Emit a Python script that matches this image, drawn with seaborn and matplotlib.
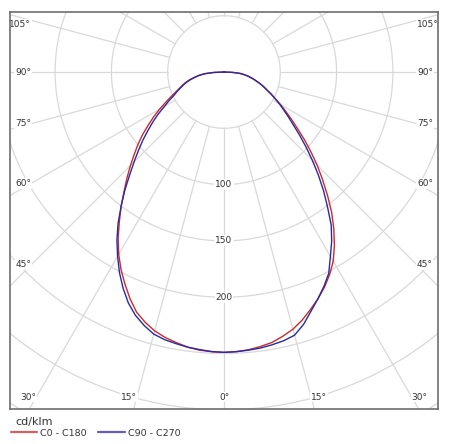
import numpy as np
import pandas as pd
import matplotlib
matplotlib.use('Agg')
import matplotlib.pyplot as plt
import seaborn as sns
from matplotlib.lines import Line2D

sns.set_style('white')
plt.rcParams['font.family'] = ['DejaVu Sans']

# Luminous intensity (cd/klm) against gamma angle, one list per C-plane
gamma = [0, 2.5, 5, 7.5, 10, 12.5, 15, 17.5, 20, 22.5, 25, 27.5, 30, 32.5, 35, 37.5, 40, 42.5,
         45, 47.5, 50, 52.5, 55, 57.5, 60, 62.5, 65, 67.5, 70, 72.5, 75, 77.5, 80, 82.5, 85, 87.5, 90]
c0 = [249, 248.5, 247.7, 246, 244, 240.5, 236.5, 231, 224.5, 218, 211, 203, 194, 182.5, 170, 157,
      143, 129.5, 117, 104.5, 93, 82, 73, 65, 58, 51.5, 46, 41, 37, 33, 29, 25.5, 22, 18.5, 15, 8, 0]
c180 = [249, 248.7, 248, 246.5, 244, 241.5, 238, 233, 227, 218, 208, 198, 187, 175, 162, 150,
        138, 127.5, 117.5, 108, 99.6, 91, 82, 74, 66, 58.5, 52, 46.5, 42, 38.5, 35, 31, 26, 22, 17, 9, 0]
c90 = [249, 248.7, 248, 247.3, 246, 244.5, 242, 235, 226, 218, 210, 201.5, 189, 178, 166, 151,
       137.5, 124, 111, 99, 88, 78, 70, 63, 57, 51, 46, 41, 37, 33, 29, 25.5, 22, 18, 14, 7, 0]
c270 = [249, 248.5, 247.5, 246.5, 245, 243.5, 241, 236, 230, 222, 212, 201, 189, 177, 164, 150,
        137, 124, 113, 103, 94, 85, 77, 69, 61, 55, 49, 45, 41, 37.5, 34, 30, 26, 22, 17, 9, 0]

series_names = ['C0 - C180', 'C90 - C270']
series_colors = ['#cc2a2a', '#2a2aa6']

ring_values = [50, 100, 150, 200, 250, 300, 350, 400]
ring_labels = [100, 150, 200]
angle_ticks = [0, 15, 30, 45, 60, 75, 90, 105]
unit_label = 'cd/klm'

# scale: 1.126 px per cd/klm, centre of the diagram near the top
XMAX = 190.05
YMIN, YMAX = -299.3, 53.3
GRID = '#d9d9d9'
TXT = '#333333'


def half_curve(values, side):
    g = np.radians(gamma)
    r = np.asarray(values, dtype=float)
    return side * r * np.sin(g), -r * np.cos(g)


rows = []
for name, right, left in [(series_names[0], c0, c180), (series_names[1], c90, c270)]:
    xl, yl = half_curve(left, -1)
    xr, yr = half_curve(right, 1)
    xs = np.concatenate([xl[::-1], xr[1:]])
    ys = np.concatenate([yl[::-1], yr[1:]])
    rows.append(pd.DataFrame({'x': xs, 'y': ys, 'curve': name}))
df = pd.concat(rows, ignore_index=True)

fig = plt.figure(figsize=(4.5, 4.44), dpi=100)
ax = fig.add_axes([10 / 450, 35 / 444, 428 / 450, 397 / 444])

# polar grid
t = np.linspace(0, 2 * np.pi, 721)
for rv in ring_values:
    ax.plot(rv * np.sin(t), -rv * np.cos(t), color=GRID, lw=0.9, zorder=1)
for a in range(0, 360, 15):
    ar = np.radians(a)
    ax.plot([50 * np.sin(ar), 600 * np.sin(ar)], [-50 * np.cos(ar), -600 * np.cos(ar)],
            color=GRID, lw=0.9, zorder=1)

sns.lineplot(data=df, x='x', y='y', hue='curve', hue_order=series_names,
             palette=series_colors, sort=False, estimator=None, units='curve',
             lw=1.0, ax=ax, legend=False, zorder=3)

# intensity labels along the 0 deg axis
for rv in ring_labels:
    ax.text(0, -rv, str(rv), ha='center', va='center', fontsize=6.5, color=TXT,
            bbox=dict(boxstyle='square,pad=0.1', fc='white', ec='none'), zorder=2)

# angle labels where radial lines meet an inset frame
x_in = XMAX - 21 / 1.126
y_in = -YMIN - 12 / 1.126
for a in angle_ticks:
    ar = np.radians(a)
    s, c = np.sin(ar), np.cos(ar)
    cands = []
    if s > 1e-9:
        cands.append(x_in / s)
    if c > 1e-9:
        cands.append(y_in / c)
    tt = min(cands)
    for side in ([1] if a == 0 else [-1, 1]):
        px, py = side * tt * s, -tt * c
        if a > 90:
            py -= 4
        ha = 'center' if a == 0 else ('right' if side < 0 else 'left')
        ax.text(px, py, f'{a}°', ha=ha, va='center', fontsize=6.5, color=TXT,
                bbox=dict(boxstyle='square,pad=0.1', fc='white', ec='none'), zorder=2)

ax.set_xlim(-XMAX, XMAX)
ax.set_ylim(YMIN, YMAX)
ax.set_xticks([])
ax.set_yticks([])
ax.set_xlabel('')
ax.set_ylabel('')
for sp in ax.spines.values():
    sp.set_color('#6e6e6e')
    sp.set_linewidth(1.2)

fig.text(15 / 450, 1 - 422 / 444, unit_label, fontsize=8, color=TXT, va='center')
handles = [Line2D([], [], color=col, lw=1.6, alpha=0.75) for col in series_colors]
fig.legend(handles, series_names, loc='center left', bbox_to_anchor=(11 / 450, 1 - 433 / 444),
           ncol=2, frameon=False, fontsize=6.8, handlelength=2.8, handletextpad=0.3,
           columnspacing=1.2, borderpad=0, borderaxespad=0, labelcolor=TXT)

fig.savefig('out.png', dpi=100)
